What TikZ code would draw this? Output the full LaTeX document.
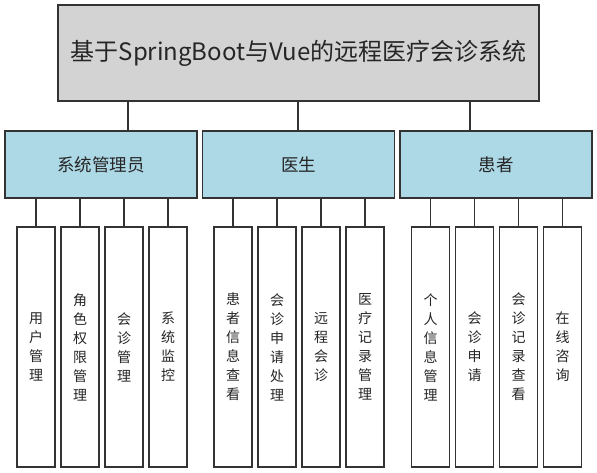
\documentclass[tikz,border=0pt]{standalone}
\usepackage{fontspec}
\setmainfont{Noto Sans CJK SC}
\begin{document}
\begin{tikzpicture}[x=1pt,y=-1pt,
  box/.style={draw=black!80,line width=1.3pt,inner sep=0pt,anchor=center,text=black!85},
  topbox/.style={box,fill=lightgray,minimum width=481pt,minimum height=96pt,font=\fontsize{24}{28}\selectfont},
  rolebox/.style={box,fill=cyan!30!blue!10!white,fill=lightblue,minimum width=192pt,minimum height=67pt,font=\fontsize{17.5}{20}\selectfont},
  leafbox/.style={box,fill=white,minimum width=38pt,minimum height=240pt,align=center,font=\fontsize{14}{19}\selectfont},
  link/.style={draw=black!80,line width=1.3pt}]
\definecolor{lightblue}{HTML}{ADD8E6}
\definecolor{lightgray}{HTML}{D3D3D3}
\useasboundingbox (0,0) rectangle (597,473);
\fill[white] (0,0) rectangle (597,473);
\node[topbox] (top) at (298.5,53) {基于SpringBoot与Vue的远程医疗会诊系统};
\node[rolebox] (admin) at (101,164.5) {系统管理员};
\node[rolebox] (doc) at (298.5,164.5) {医生};
\node[rolebox] (pat) at (496,164.5) {患者};
\coordinate (ca) at (128,0);
\coordinate (cd) at (298,0);
\coordinate (cp) at (470,0);
\draw[link] (top.south -| ca) -- (admin.north -| ca);
\draw[link] (top.south -| cd) -- (doc.north -| cd);
\draw[link] (top.south -| cp) -- (pat.north -| cp);
% leaves
\node[leafbox] (a1) at (36,347) {用\\户\\管\\理};
\node[leafbox] (a2) at (80,347) {角\\色\\权\\限\\管\\理};
\node[leafbox] (a3) at (124,347) {会\\诊\\管\\理};
\node[leafbox] (a4) at (168,347) {系\\统\\监\\控};
\node[leafbox] (d1) at (233,347) {患\\者\\信\\息\\查\\看};
\node[leafbox] (d2) at (277,347) {会\\诊\\申\\请\\处\\理};
\node[leafbox] (d3) at (321,347) {远\\程\\会\\诊};
\node[leafbox] (d4) at (365,347) {医\\疗\\记\\录\\管\\理};
\node[leafbox] (p1) at (430.5,347) {个\\人\\信\\息\\管\\理};
\node[leafbox] (p2) at (474.5,347) {会\\诊\\申\\请};
\node[leafbox] (p3) at (518.5,347) {会\\诊\\记\\录\\查\\看};
\node[leafbox] (p4) at (562.5,347) {在\\线\\咨\\询};
\foreach \c in {a1,a2,a3,a4} \draw[link] (admin.south -| \c.north) -- (\c.north);
\foreach \c in {d1,d2,d3,d4} \draw[link] (doc.south -| \c.north) -- (\c.north);
\foreach \c in {p1,p2,p3,p4} \draw[link] (pat.south -| \c.north) -- (\c.north);
\end{tikzpicture}
\end{document}
